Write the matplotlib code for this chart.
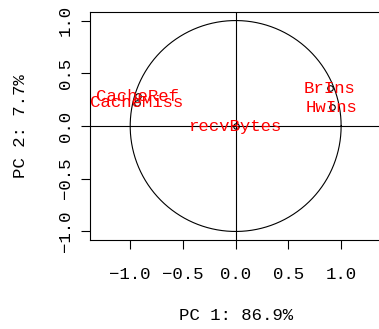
import numpy as np
import matplotlib
matplotlib.use("Agg")
import matplotlib.pyplot as plt

# variables du cercle des correlations (PC1, PC2)
labels = ["CacheRef", "CacheMiss", "recvBytes", "BrIns", "HwIns"]
pc1 = [-0.93, -0.94, 0.0, 0.89, 0.91]
pc2 = [0.28, 0.22, 0.0, 0.36, 0.18]
ticks = [-1.0, -0.5, 0.0, 0.5, 1.0]
xlab = "PC 1: 86.9%"
ylab = "PC 2: 7.7%"

plt.rcParams['font.family'] = ['Liberation Mono', 'DejaVu Sans Mono']
plt.rcParams['font.size'] = 12.5

fig = plt.figure(figsize=(3.79, 3.29), dpi=100)
ax = fig.add_axes([0.2375, 0.2705, 0.7686, 0.693])

t = np.linspace(0, 2*np.pi, 400)
ax.plot(np.cos(t), np.sin(t), color='black', lw=0.8)
ax.axhline(0, color='black', lw=0.8)
ax.axvline(0, color='black', lw=0.8)

for x, y, s in zip(pc1, pc2, labels):
    ax.text(x, y, s, color='red', ha='center', va='center', fontsize=12.5)
ax.plot(pc1, pc2, 'o', mfc='none', mec='black', ms=4, mew=0.8)

ax.set_xlim(-1.381, 1.381)
ax.set_ylim(-1.081, 1.081)
ax.set_xticks(ticks)
ax.set_yticks(ticks)
ax.set_xticklabels(["\u22121.0", "\u22120.5", "0.0", "0.5", "1.0"])
ax.set_yticklabels(["\u22121.0", "\u22120.5", "0.0", "0.5", "1.0"], rotation=90, va='center')
ax.tick_params(length=6.5, width=0.8)
ax.tick_params(axis='x', pad=13)
ax.tick_params(axis='y', pad=6)
for sp in ax.spines.values():
    sp.set_linewidth(0.8)

ax.set_xlabel(xlab, labelpad=19)
ax.set_ylabel(ylab, labelpad=21)

fig.savefig("out.png", dpi=100)
